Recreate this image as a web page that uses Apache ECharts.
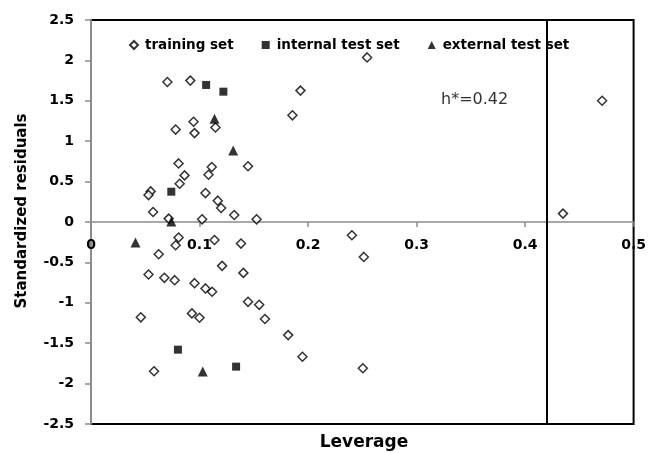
<!DOCTYPE html>
<html>
<head>
<meta charset="utf-8">
<script src="https://cdn.jsdelivr.net/npm/echarts@6/dist/echarts.min.js"></script>
<style>
html,body{margin:0;padding:0;background:#fff;}
#chart{width:649px;height:453px;}
</style>
</head>
<body>
<div id="chart"></div>
<script>
// ---- data ----
const trainingSet = [
  [0.0704, 1.733], [0.0915, 1.75], [0.193, 1.626], [0.1856, 1.32],
  [0.078, 1.144], [0.0945, 1.24], [0.0954, 1.10], [0.1147, 1.17],
  [0.0807, 0.725], [0.1113, 0.68], [0.1447, 0.69], [0.0862, 0.577],
  [0.1083, 0.585], [0.0817, 0.474], [0.055, 0.379], [0.053, 0.333],
  [0.1055, 0.358], [0.1168, 0.264], [0.1199, 0.173], [0.0572, 0.124],
  [0.132, 0.087], [0.0716, 0.042], [0.1024, 0.033], [0.1526, 0.033],
  [0.2544, 2.037], [0.471, 1.50], [0.4349, 0.104],
  [0.0807, -0.193], [0.078, -0.288], [0.1138, -0.222], [0.1382, -0.267],
  [0.0624, -0.399], [0.1208, -0.543], [0.1404, -0.63], [0.053, -0.65],
  [0.0676, -0.691], [0.0771, -0.72], [0.0954, -0.757], [0.1055, -0.822],
  [0.1116, -0.864], [0.1447, -0.988], [0.155, -1.025], [0.1603, -1.20],
  [0.0459, -1.18], [0.093, -1.131], [0.10, -1.185], [0.1817, -1.40],
  [0.1948, -1.667], [0.0581, -1.847], [0.2505, -1.81], [0.2404, -0.164],
  [0.2514, -0.432]
];
const internalTestSet = [
  [0.1061, 1.696], [0.122, 1.613], [0.074, 0.375], [0.0801, -1.58], [0.1337, -1.79]
];
const externalTestSet = [
  [0.1138, 1.277], [0.131, 0.885], [0.074, 0.005], [0.041, -0.255], [0.103, -1.85]
];
const hStar = 0.42;
const seriesNames = ['training set', 'internal test set', 'external test set'];
const xTitle = 'Leverage';
const yTitle = 'Standardized residuals';

const FONT = '"DejaVu Sans", sans-serif';
const chart = echarts.init(document.getElementById('chart'), null, {renderer: 'canvas'});

chart.setOption({
  animation: false,
  backgroundColor: '#fff',
  grid: {
    left: 91, right: 12, top: 20, bottom: 29,
    show: true, borderColor: '#000', borderWidth: 2, backgroundColor: 'transparent'
  },
  legend: {
    data: seriesNames,
    left: 124, top: 33,
    itemWidth: 8, itemHeight: 8, itemGap: 28,
    textStyle: {fontFamily: FONT, fontWeight: 'bold', fontSize: 13.5, color: '#000', padding: [0,0,0,2]}
  },
  xAxis: {
    type: 'value', min: 0, max: 0.5, interval: 0.1,
    position: 'bottom', offset: -202,
    axisLine: {onZero: false, lineStyle: {color: '#8c8c8c', width: 1.5}},
    axisTick: {show: true, length: 5, lineStyle: {color: '#8c8c8c', width: 1.5}},
    axisLabel: {fontFamily: FONT, fontWeight: 'bold', fontSize: 14, color: '#000', margin: 16,
      showMinLabel: true, showMaxLabel: true},
    splitLine: {show: false}
  },
  yAxis: {
    type: 'value', min: -2.5, max: 2.5, interval: 0.5,
    axisLine: {show: true, onZero: false, lineStyle: {color: '#8c8c8c', width: 2}},
    axisTick: {show: true, length: 6, lineStyle: {color: '#8c8c8c', width: 1.5}},
    axisLabel: {fontFamily: FONT, fontWeight: 'bold', fontSize: 14, color: '#000', margin: 17},
    splitLine: {show: false}
  },
  graphic: [
    {type: 'text', x: 22, y: 211, rotation: Math.PI / 2,
      style: {text: yTitle, font: 'bold 15px ' + FONT, fill: '#000', align: 'center', verticalAlign: 'middle'}},
    {type: 'text', x: 364, y: 443,
      style: {text: xTitle, font: 'bold 17px ' + FONT, fill: '#000', align: 'center', verticalAlign: 'middle'}},
    {type: 'text', x: 441, y: 100,
      style: {text: 'h*=' + hStar, font: '16px ' + FONT, fill: '#333', align: 'left', verticalAlign: 'middle'}}
  ],
  series: [
    {
      name: seriesNames[0], type: 'scatter', data: trainingSet,
      symbol: 'diamond', symbolSize: 9,
      itemStyle: {color: '#fff', borderColor: '#000', borderWidth: 1.5},
      markLine: {
        silent: true, symbol: 'none', label: {show: false},
        lineStyle: {color: '#000', width: 2, type: 'solid'},
        data: [{xAxis: hStar}]
      },
      z: 3
    },
    {
      name: seriesNames[1], type: 'scatter', data: internalTestSet,
      symbol: 'rect', symbolSize: 8,
      itemStyle: {color: '#000'}, z: 4
    },
    {
      name: seriesNames[2], type: 'scatter', data: externalTestSet,
      symbol: 'triangle', symbolSize: 10,
      itemStyle: {color: '#000'}, z: 4
    }
  ]
});
</script>
</body>
</html>
